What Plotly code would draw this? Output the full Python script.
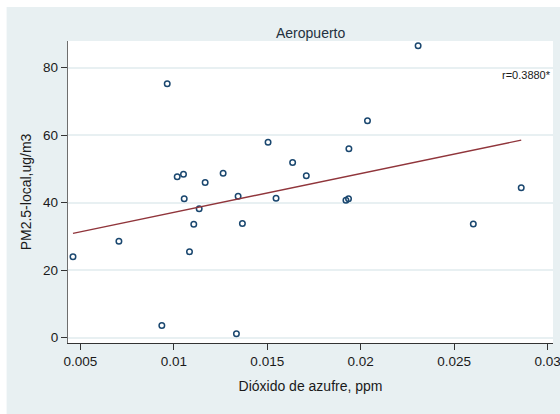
import numpy as np
import plotly.graph_objects as go

# Sulfur dioxide (ppm) vs local PM2.5 (ug/m3), Aeropuerto station
so2 = [0.009647, 0.010181, 0.010518, 0.011677, 0.012639, 0.015043, 0.016357,
       0.017089, 0.019369, 0.020363, 0.023072, 0.028590, 0.010556, 0.011357,
       0.011068, 0.007062, 0.004605, 0.010839, 0.009359, 0.013440, 0.015470,
       0.019210, 0.019348, 0.013670, 0.013350, 0.026026]
pm25 = [75.2, 47.7, 48.4, 46.0, 48.7, 57.9, 51.9,
        48.0, 56.0, 64.3, 86.5, 44.4, 41.2, 38.2,
        33.6, 28.6, 24.0, 25.5, 3.6, 41.9, 41.3,
        40.7, 41.2, 33.8, 1.2, 33.7]

x_ticks = [0.005, 0.01, 0.015, 0.02, 0.025, 0.03]
x_tick_text = ["0.005", "0.01", "0.015", "0.02", "0.025", "0.03"]
y_ticks = [0, 20, 40, 60, 80]

panel_title = "Aeropuerto"
x_title = "Dióxido de azufre, ppm"
y_title = "PM2.5-local,ug/m3"
r_label = "r=0.3880*"

# linear fit over the observed x span
x_arr = np.array(so2)
y_arr = np.array(pm25)
slope, intercept = np.polyfit(x_arr, y_arr, 1)
fit_x = np.array([x_arr.min(), x_arr.max()])
fit_y = intercept + slope * fit_x

FONT = "Liberation Sans, Arial, Helvetica, sans-serif"
REGION = "#e8f0f2"
NAVY = "#1a476f"
MAROON = "#90353b"

fig = go.Figure()
fig.add_trace(go.Scatter(
    x=so2, y=pm25, mode="markers",
    marker=dict(symbol="circle-open", size=5.5, color=NAVY, line=dict(width=1.5, color=NAVY)),
    showlegend=False, hoverinfo="skip",
))
fig.add_trace(go.Scatter(
    x=fit_x, y=fit_y, mode="lines",
    line=dict(color=MAROON, width=1.4),
    showlegend=False, hoverinfo="skip",
))

fig.update_layout(
    width=560, height=414,
    margin=dict(l=68, r=7, t=41, b=71, autoexpand=False),
    paper_bgcolor=REGION,
    plot_bgcolor="white",
    font=dict(family=FONT, size=13.5, color="#1a1a1a"),
    xaxis=dict(
        range=[0.004338, 0.03029],
        tickmode="array", tickvals=x_ticks, ticktext=x_tick_text,
        ticks="outside", ticklen=6, tickwidth=1, tickcolor="#333333",
        ticklabeloverflow="allow", automargin=False,
        showgrid=False, zeroline=False,
        showline=True, linecolor="#333333", linewidth=1,
        tickfont=dict(size=13.5, color="#1a1a1a"),
        title=dict(text=x_title, font=dict(size=14, color="#1a1a1a"), standoff=12),
    ),
    yaxis=dict(
        range=[-1.57, 87.9],
        tickmode="array", tickvals=y_ticks,
        ticks="outside", ticklen=6, tickwidth=1, tickcolor="#333333",
        automargin=False,
        showgrid=True, gridcolor=REGION, gridwidth=1.5,
        zeroline=False,
        showline=True, linecolor="#6e6e6e", linewidth=1.3,
        tickfont=dict(size=13.5, color="#1a1a1a"),
        title=dict(text=y_title, font=dict(size=14, color="#1a1a1a"), standoff=8),
    ),
    shapes=[
        # thin white border along the top and left of the graph region
        dict(type="rect", xref="paper", yref="paper", x0=-0.2, x1=1.1, y0=1.1125, y1=1.3,
             fillcolor="white", line=dict(width=0), layer="below"),
        dict(type="rect", xref="paper", yref="paper", x0=-0.2, x1=-0.1266, y0=-0.4, y1=1.3,
             fillcolor="white", line=dict(width=0), layer="below"),
    ],
    annotations=[
        dict(text=panel_title, xref="paper", yref="paper", x=0.5, y=1.0265,
             xanchor="center", yanchor="middle", showarrow=False,
             font=dict(size=14, color="#243140", family=FONT)),
        dict(text=r_label, xref="paper", yref="paper", x=0.999, y=0.8875,
             xanchor="right", yanchor="middle", showarrow=False,
             font=dict(size=11, color="#1a1a1a", family=FONT)),
    ],
)

fig.write_html("out.html")
